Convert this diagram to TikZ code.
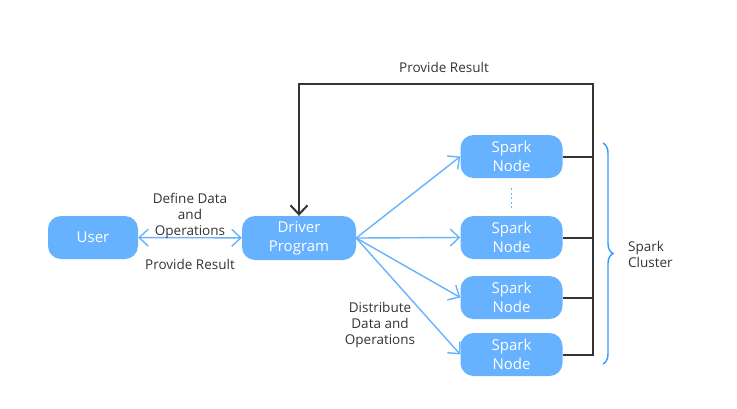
\documentclass[tikz,border=0pt]{standalone}
\usepackage{fontspec}
\setmainfont{Open Sans}
\usetikzlibrary{arrows.meta,decorations.pathreplacing}
\definecolor{nodeblue}{HTML}{66B2FF}
\definecolor{braceblue}{HTML}{3399FF}
\definecolor{darkline}{HTML}{333333}
\tikzset{ %inner sep = 0,
  {box/.style} ={rectangle, rounded corners=13pt, fill=nodeblue,
                 text=white, align=center, inner sep=0,
                 minimum height=43pt, font=\fontsize{15}{19}\selectfont},
  {user box/.style} ={box, minimum width=90pt},
  {driver box/.style} ={box, minimum width=114pt, minimum height=44pt},
  {spark box/.style} ={box, minimum width=102pt},
  {note/.style} ={text=darkline, align=center, inner sep=0,
                  font=\fontsize{13.5}{16}\selectfont},
  {flow/.style} ={draw=nodeblue, line width=1.4pt},
  {back/.style} ={draw=darkline, line width=2pt},
  >={Straight Barb[length=9pt,width=17pt]},
}

\begin{document}
\begin{tikzpicture}[x=1pt,y=-1pt]
    \useasboundingbox (0,0) rectangle (737,408);
    \node[user box] (user) at (93,237.5) {User};
    \node[driver box] (driver) at (299,238) {Driver\\Program};
    \node[spark box] (spark1) at (511.5,156.5) {Spark\\Node};
    \node[spark box] (spark2) at (511.5,237.5) {Spark\\Node};
    \node[spark box] (spark3) at (511.5,297.5) {Spark\\Node};
    \node[spark box] (spark4) at (511.5,354.5) {Spark\\Node};
    % user <-> driver
    \draw[flow,<->] (user) -- (driver);
    \node[note] (define) at (190,216) {Define Data\\and\\Operations};
    \node[note] (result) at (190,264) {Provide Result};
    % driver -> spark nodes
    \foreach \s in {spark1,spark2,spark3,spark4}
      \draw[flow,->] (driver.east) -- (\s.west);
    \node[note] (distribute) at (380,325) {Distribute\\Data and\\Operations};
    \draw[flow,dash pattern=on 2pt off 2.5pt,shorten <=10pt,shorten >=6pt]
      (spark1) -- (spark2);
    % results back to the driver
    \coordinate (corner) at (593,84);
    \foreach \s in {spark1,spark2,spark3}
      \draw[back] (\s.east) -- (\s.east -| corner);
    \draw[back,->] (spark4.east) -| (corner) -| (driver.north);
    \node[note] (back result) at (444,67) {Provide Result};
    % cluster brace
    \coordinate (brace top) at (603,143);
    \coordinate (brace bottom) at (603,364);
    \draw[braceblue,line width=1.4pt,decorate,
          decoration={brace,amplitude=10pt}] (brace top) -- (brace bottom);
    \node[note,anchor=west,align=left] (cluster) at (628,254) {Spark\\Cluster};
\end{tikzpicture}
\end{document}
